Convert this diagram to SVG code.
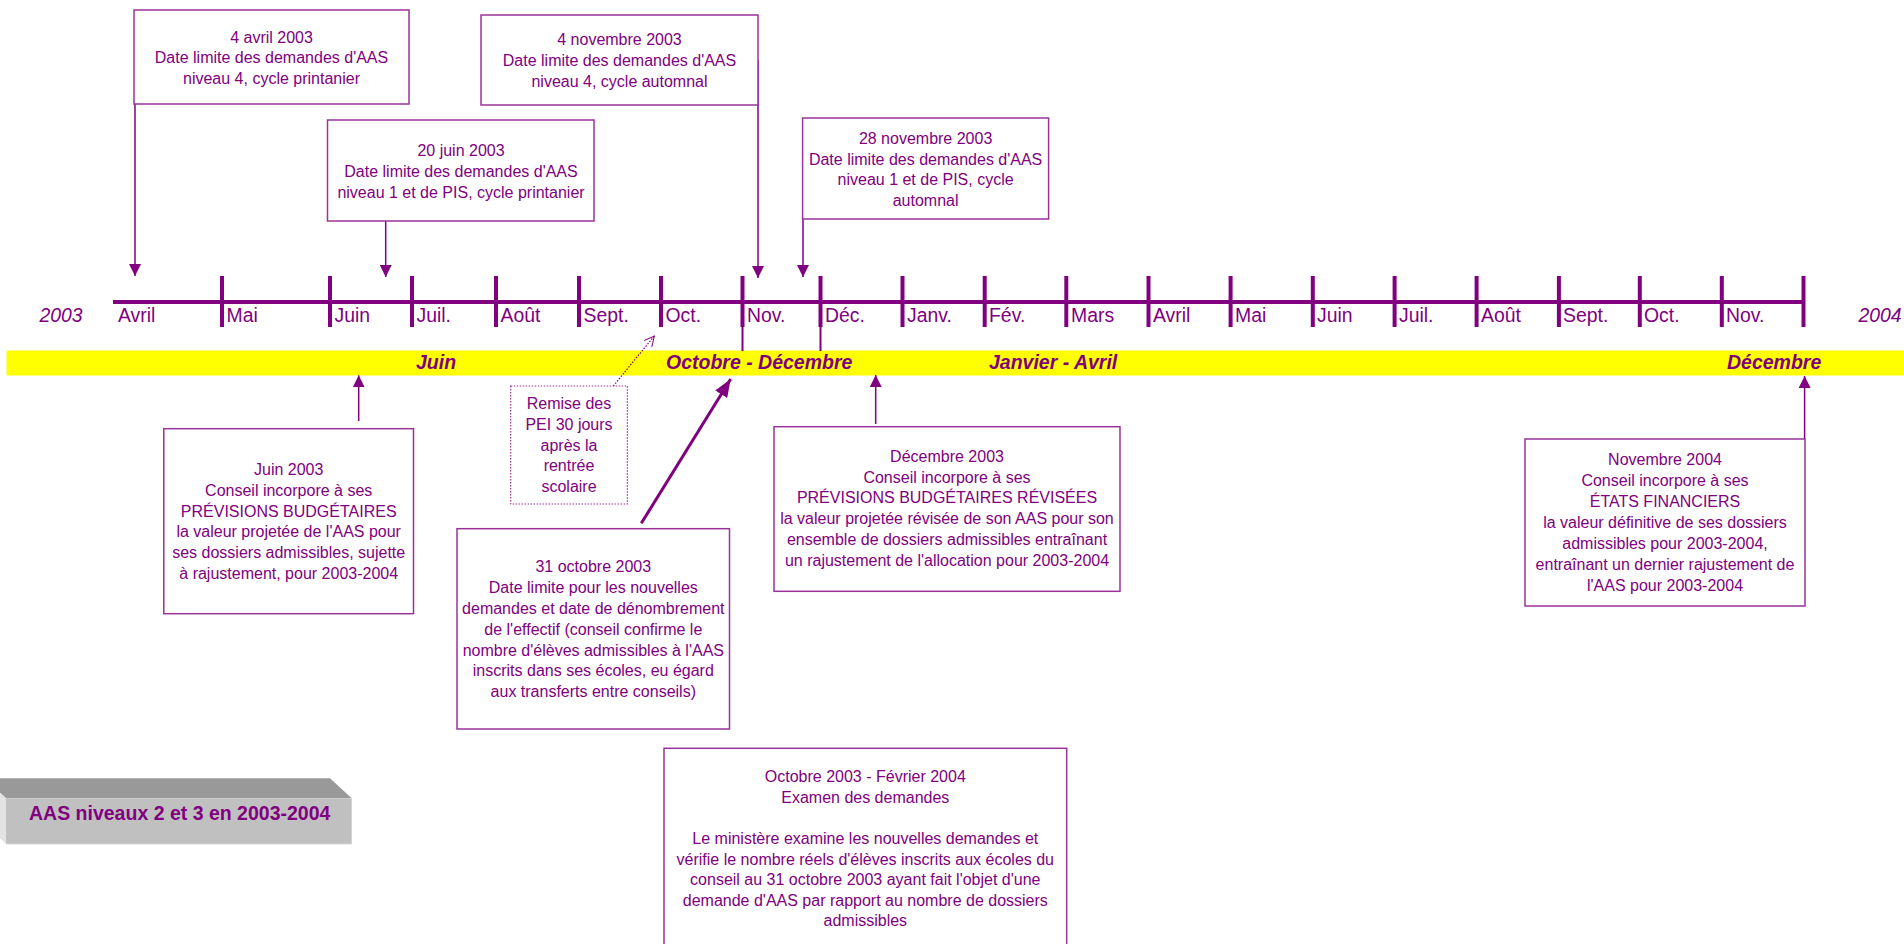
<svg xmlns="http://www.w3.org/2000/svg" width="1904" height="944" viewBox="0 0 1904 944">
<style>
.bx{fill:#fff;stroke:#993399;stroke-width:1.5}
.dot{fill:#fff;stroke:#993399;stroke-width:1.2;stroke-dasharray:1.5 1.5}
.t{font-family:"Liberation Sans",Arial,sans-serif;font-size:16px;fill:#800080;text-anchor:middle}
.m{font-family:"Liberation Sans",Arial,sans-serif;font-size:19.4px;fill:#800080}
.yr{font-family:"Liberation Sans",Arial,sans-serif;font-size:19.4px;fill:#800080;font-style:italic}
.bl{font-family:"Liberation Sans",Arial,sans-serif;font-size:19.5px;fill:#800080;font-style:italic;font-weight:bold}
.tick{stroke:#800080;stroke-width:4}
.con{stroke:#800080;stroke-width:1.5;fill:none}
</style>
<defs>
<marker id="ah" markerUnits="userSpaceOnUse" markerWidth="12" markerHeight="12" refX="12" refY="6" orient="auto"><path d="M0,0 L12,6 L0,12 z" fill="#800080"/></marker>
<marker id="ahb" markerUnits="userSpaceOnUse" markerWidth="18" markerHeight="14" refX="18" refY="7" orient="auto"><path d="M0,0 L18,7 L0,14 z" fill="#800080"/></marker>
<marker id="aho" markerUnits="userSpaceOnUse" markerWidth="12" markerHeight="12" refX="11" refY="5" orient="auto"><path d="M1,0 L11,5 L1,10" fill="none" stroke="#800080" stroke-width="1"/></marker>
</defs>
<rect width="1904" height="944" fill="#fff"/>

<g id="band">
<rect x="6.5" y="350.5" width="1897.5" height="25" fill="#ffff00"/>
<text class="bl" x="416" y="369">Juin</text>
<text class="bl" x="666" y="369">Octobre - Décembre</text>
<text class="bl" x="989" y="369">Janvier - Avril</text>
<text class="bl" x="1727" y="369">Décembre</text>
</g>

<g id="timeline">
<line x1="113" y1="302" x2="1805" y2="302" stroke="#800080" stroke-width="4"/>
<line class="tick" x1="222" y1="276" x2="222" y2="327"/>
<line class="tick" x1="330" y1="276" x2="330" y2="327"/>
<line class="tick" x1="412" y1="276" x2="412" y2="327"/>
<line class="tick" x1="496" y1="276" x2="496" y2="327"/>
<line class="tick" x1="579" y1="276" x2="579" y2="327"/>
<line class="tick" x1="661" y1="276" x2="661" y2="327"/>
<line class="tick" x1="742.5" y1="276" x2="742.5" y2="327"/>
<line class="tick" x1="820.5" y1="276" x2="820.5" y2="327"/>
<line class="tick" x1="902.5" y1="276" x2="902.5" y2="327"/>
<line class="tick" x1="984.7" y1="276" x2="984.7" y2="327"/>
<line class="tick" x1="1066.3" y1="276" x2="1066.3" y2="327"/>
<line class="tick" x1="1148.5" y1="276" x2="1148.5" y2="327"/>
<line class="tick" x1="1230.6" y1="276" x2="1230.6" y2="327"/>
<line class="tick" x1="1312.8" y1="276" x2="1312.8" y2="327"/>
<line class="tick" x1="1394.6" y1="276" x2="1394.6" y2="327"/>
<line class="tick" x1="1476.6" y1="276" x2="1476.6" y2="327"/>
<line class="tick" x1="1558.9" y1="276" x2="1558.9" y2="327"/>
<line class="tick" x1="1639.8" y1="276" x2="1639.8" y2="327"/>
<line class="tick" x1="1721.8" y1="276" x2="1721.8" y2="327"/>
<line class="tick" x1="1803.5" y1="276" x2="1803.5" y2="327"/>
<line x1="742.5" y1="327" x2="742.5" y2="351" stroke="#800080" stroke-width="2"/>
<line x1="820.5" y1="327" x2="820.5" y2="351" stroke="#800080" stroke-width="2"/>
<text class="yr" x="39.5" y="321.7">2003</text>
<text class="yr" x="1858.5" y="321.7">2004</text>
<text class="m" x="118" y="321.7">Avril</text>
<text class="m" x="226.5" y="321.7">Mai</text>
<text class="m" x="334.5" y="321.7">Juin</text>
<text class="m" x="416.5" y="321.7">Juil.</text>
<text class="m" x="500.5" y="321.7">Août</text>
<text class="m" x="583.5" y="321.7">Sept.</text>
<text class="m" x="665.5" y="321.7">Oct.</text>
<text class="m" x="747" y="321.7">Nov.</text>
<text class="m" x="825" y="321.7">Déc.</text>
<text class="m" x="907" y="321.7">Janv.</text>
<text class="m" x="989" y="321.7">Fév.</text>
<text class="m" x="1071" y="321.7">Mars</text>
<text class="m" x="1153" y="321.7">Avril</text>
<text class="m" x="1235" y="321.7">Mai</text>
<text class="m" x="1317" y="321.7">Juin</text>
<text class="m" x="1399" y="321.7">Juil.</text>
<text class="m" x="1481" y="321.7">Août</text>
<text class="m" x="1563" y="321.7">Sept.</text>
<text class="m" x="1644" y="321.7">Oct.</text>
<text class="m" x="1726" y="321.7">Nov.</text>
</g>

<g id="connectors">
<line class="con" x1="135" y1="104" x2="135" y2="276" marker-end="url(#ah)"/>
<line class="con" x1="758" y1="60" x2="758" y2="278" marker-end="url(#ah)"/>
<line class="con" x1="385.7" y1="221" x2="385.7" y2="277" marker-end="url(#ah)"/>
<line class="con" x1="803" y1="219" x2="803" y2="277" marker-end="url(#ah)"/>
<line class="con" x1="358.7" y1="421" x2="358.7" y2="375.3" marker-end="url(#ah)"/>
<line class="con" x1="875.7" y1="424" x2="875.7" y2="375" marker-end="url(#ah)"/>
<line class="con" x1="1804.6" y1="439" x2="1804.6" y2="376" marker-end="url(#ah)"/>
<line x1="641.3" y1="523.3" x2="730.7" y2="379" stroke="#800080" stroke-width="3" marker-end="url(#ahb)"/>
<line x1="613.3" y1="386" x2="654.3" y2="336" stroke="#800080" stroke-width="1.2" stroke-dasharray="1.5 1.5" marker-end="url(#aho)"/>
</g>

<g id="n-avril">
<rect class="bx" x="134" y="10" width="275" height="94"/>
<text class="t" x="271.5" y="42.5">4 avril 2003</text>
<text class="t" x="271.5" y="63">Date limite des demandes d'AAS</text>
<text class="t" x="271.5" y="83.5">niveau 4, cycle printanier</text>
</g>

<g id="n-nov4">
<rect class="bx" x="481" y="15" width="277" height="90"/>
<text class="t" x="619.5" y="45">4 novembre 2003</text>
<text class="t" x="619.5" y="66">Date limite des demandes d'AAS</text>
<text class="t" x="619.5" y="86.5">niveau 4, cycle automnal</text>
</g>

<g id="n-juin20">
<rect class="bx" x="327.5" y="120" width="266.5" height="101"/>
<text class="t" x="461" y="156">20 juin 2003</text>
<text class="t" x="461" y="177">Date limite des demandes d'AAS</text>
<text class="t" x="461" y="198">niveau 1 et de PIS, cycle printanier</text>
</g>

<g id="n-nov28">
<rect class="bx" x="802.6" y="118" width="246" height="101"/>
<text class="t" x="925.6" y="143.5">28 novembre 2003</text>
<text class="t" x="925.6" y="164.5">Date limite des demandes d'AAS</text>
<text class="t" x="925.6" y="185">niveau 1 et de PIS, cycle</text>
<text class="t" x="925.6" y="205.5">automnal</text>
</g>

<g id="n-juin2003">
<rect class="bx" x="163.8" y="428.7" width="249.7" height="185"/>
<text class="t" x="288.7" y="475">Juin 2003</text>
<text class="t" x="288.7" y="495.8">Conseil incorpore à ses</text>
<text class="t" x="288.7" y="516.6">PRÉVISIONS BUDGÉTAIRES</text>
<text class="t" x="288.7" y="537.4">la valeur projetée de l'AAS pour</text>
<text class="t" x="288.7" y="558.2">ses dossiers admissibles, sujette</text>
<text class="t" x="288.7" y="579">à rajustement, pour 2003-2004</text>
</g>

<g id="n-remise">
<rect class="dot" x="510.7" y="386" width="116.7" height="118"/>
<text class="t" x="569" y="409.3">Remise des</text>
<text class="t" x="569" y="430">PEI 30 jours</text>
<text class="t" x="569" y="450.7">après la</text>
<text class="t" x="569" y="471">rentrée</text>
<text class="t" x="569" y="491.7">scolaire</text>
</g>

<g id="n-oct31">
<rect class="bx" x="457" y="528.7" width="272.5" height="200.3"/>
<text class="t" x="593.3" y="572.4">31 octobre 2003</text>
<text class="t" x="593.3" y="593.2">Date limite pour les nouvelles</text>
<text class="t" x="593.3" y="614">demandes et date de dénombrement</text>
<text class="t" x="593.3" y="634.8">de l'effectif (conseil confirme le</text>
<text class="t" x="593.3" y="655.6">nombre d'élèves admissibles à l'AAS</text>
<text class="t" x="593.3" y="676.4">inscrits dans ses écoles, eu égard</text>
<text class="t" x="593.3" y="697.2">aux transferts entre conseils)</text>
</g>

<g id="n-dec2003">
<rect class="bx" x="774" y="426.7" width="346" height="164.6"/>
<text class="t" x="947" y="461.7">Décembre 2003</text>
<text class="t" x="947" y="482.5">Conseil incorpore à ses</text>
<text class="t" x="947" y="503.3">PRÉVISIONS BUDGÉTAIRES RÉVISÉES</text>
<text class="t" x="947" y="524.1">la valeur projetée révisée de son AAS pour son</text>
<text class="t" x="947" y="544.9">ensemble de dossiers admissibles entraînant</text>
<text class="t" x="947" y="565.7">un rajustement de l'allocation pour 2003-2004</text>
</g>

<g id="n-examen">
<rect class="bx" x="664" y="748.3" width="402.7" height="210"/>
<text class="t" x="865.3" y="782.3">Octobre 2003 - Février 2004</text>
<text class="t" x="865.3" y="802.8">Examen des demandes</text>
<text class="t" x="865.3" y="844">Le ministère examine les nouvelles demandes et</text>
<text class="t" x="865.3" y="864.5">vérifie le nombre réels d'élèves inscrits aux écoles du</text>
<text class="t" x="865.3" y="885">conseil au 31 octobre 2003 ayant fait l'objet d'une</text>
<text class="t" x="865.3" y="905.5">demande d'AAS par rapport au nombre de dossiers</text>
<text class="t" x="865.3" y="926">admissibles</text>
</g>

<g id="n-nov2004">
<rect class="bx" x="1525" y="439" width="280" height="167"/>
<text class="t" x="1665" y="465">Novembre 2004</text>
<text class="t" x="1665" y="486">Conseil incorpore à ses</text>
<text class="t" x="1665" y="507">ÉTATS FINANCIERS</text>
<text class="t" x="1665" y="528">la valeur définitive de ses dossiers</text>
<text class="t" x="1665" y="549">admissibles pour 2003-2004,</text>
<text class="t" x="1665" y="569.5">entraînant un dernier rajustement de</text>
<text class="t" x="1665" y="590.5">l'AAS pour 2003-2004</text>
</g>

<g id="legend">
<polygon points="-16,778.3 330,778.3 351.7,798.3 6,798.3" fill="#999999"/>
<polygon points="-16,778.3 6,798.3 6,844 -16,824" fill="#e3e3e3"/>
<rect x="6" y="798.3" width="345.7" height="45.7" fill="#c0c0c0"/>
<line x1="6" y1="844" x2="351.7" y2="844" stroke="#d8d8d8" stroke-width="1"/>
<text x="179.7" y="820" font-family="Liberation Sans, Arial, sans-serif" font-size="19.5" font-weight="bold" fill="#800080" text-anchor="middle">AAS niveaux 2 et 3 en 2003-2004</text>
</g>
</svg>
